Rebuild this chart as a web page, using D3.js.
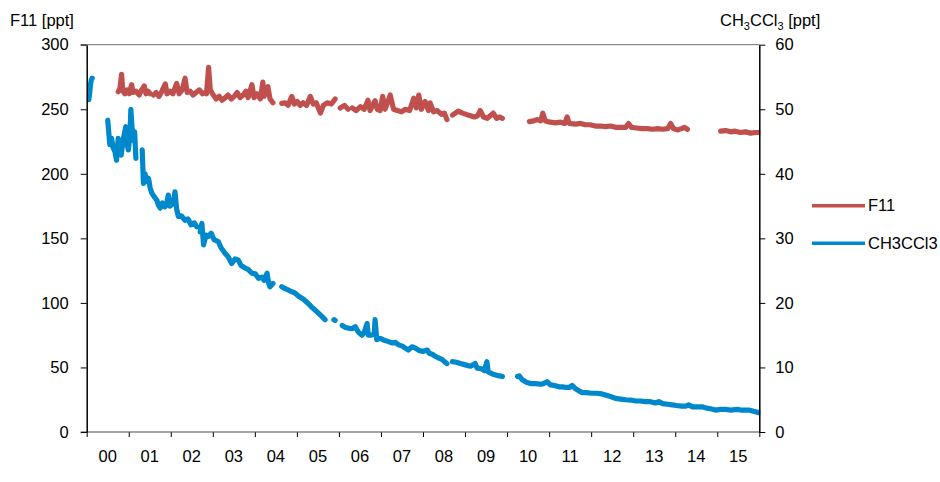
<!DOCTYPE html>
<html>
<head>
<meta charset="utf-8">
<script src="https://cdn.jsdelivr.net/npm/d3@7"></script>
<style>
  html, body { margin: 0; padding: 0; background: #fff; }
  text { font-family: "Liberation Sans", Arial, sans-serif; }
</style>
</head>
<body>
<svg id="chart" width="940" height="482"></svg>
<script>
// ---------- DATA (time in years since 2000; null = gap) ----------
const yearLabels = ["00","01","02","03","04","05","06","07","08","09","10","11","12","13","14","15"];
const leftTicks = [0, 50, 100, 150, 200, 250, 300];
const rightTicks = [0, 10, 20, 30, 40, 50, 60];
const seriesNames = ["F11", "CH3CCl3"];

const f11Time = [
  0.75,0.79,0.83,0.86,0.91,0.96,1.01,1.07,1.10,1.17,1.25,1.29,1.37,1.41,1.46,1.51,null,
  1.59,1.65,1.72,1.79,1.87,1.91,1.98,2.05,2.14,2.20,2.27,2.34,2.39,2.46,2.53,2.60,2.68,2.75,2.82,2.85,2.90,2.94,
  3.01,3.08,3.15,3.22,3.30,3.36,3.44,3.51,3.58,3.65,3.72,3.79,3.84,3.93,3.98,4.05,4.13,4.19,4.22,4.31,4.36,4.43,null,
  4.64,4.72,4.79,4.88,4.94,5.01,5.08,5.15,5.23,5.32,5.39,5.46,5.56,5.63,5.72,5.82,5.91,null,
  6.03,6.13,6.22,null,
  6.32,6.41,6.51,6.60,6.69,6.74,6.86,6.91,6.98,7.04,7.10,7.22,7.30,7.39,7.49,7.58,7.68,7.78,7.84,7.90,7.96,
  8.05,8.13,8.17,8.25,8.34,8.44,8.51,8.57,null,
  8.70,8.77,8.84,8.94,9.03,9.13,9.22,9.30,9.36,9.44,9.53,9.60,9.67,9.75,9.82,9.89,null,
  10.53,10.63,10.72,10.80,10.85,10.91,11.03,11.15,11.27,11.37,11.43,11.48,11.63,11.75,11.86,11.98,
  12.10,12.22,12.34,12.46,12.58,12.70,12.82,12.89,12.96,13.08,13.21,13.34,13.46,13.58,13.70,13.82,13.89,13.96,
  14.05,14.15,14.22,14.29,null,
  15.08,15.20,15.32,15.43,15.55,15.67,15.79,15.91,16.00
];
const f11Values = [
  263.6,266,277,264,262,265,262,269,263,264,261,264,268,262,264,262,null,
  261,263,260,264,269.6,262,264,262,270,262,265,274,263,264,261,263,265,262,263,262,282.5,265,
  261,258,260,257,259,261,258,260,263,259,261,264,259,269,259,262,258,271,260,267.5,258,255,null,
  254.6,255,253,260,254,256,253,255,253,260,254,255,247,253,255,254,258,null,
  251,253,250,null,
  251,249,252,250,257,249,256.6,250,249,260,250,261,250,249,248,250,249,258.5,251,261,250,
  256,249,255,248,249,246,247,242,null,
  245.5,247,248.6,247,246,245,244,245,249,244,243,245,247,243,244,243,null,
  240.4,241,242,241,246.9,241,240,239.5,240,239,244,239,238.5,239,238,238,
  237,237,236.5,237,236,236,236,239,236,235.5,235,235,234.5,235,234.5,235,239,235,
  234,235,236,234.5,null,
  233,233.5,232.5,233,232,232.5,231.5,232,232
];

const ch3Time = [
  0.05,0.07,0.09,0.11,0.13,null,
  0.50,0.53,0.55,0.59,0.63,0.67,0.71,0.75,0.78,0.82,0.86,0.93,0.96,0.99,1.03,1.05,1.08,1.11,1.14,1.17,null,
  1.32,1.35,1.39,1.42,1.47,1.51,1.55,1.60,1.67,1.70,1.75,1.80,1.86,1.90,1.94,1.98,2.02,2.07,2.10,2.14,2.18,
  2.25,2.34,2.41,2.48,2.56,2.62,null,
  2.70,2.74,2.78,2.84,2.90,2.96,3.03,3.13,3.20,3.29,3.36,3.45,3.53,3.61,3.67,3.77,3.84,3.93,4.01,4.09,4.17,
  4.22,4.29,4.33,4.36,4.43,null,
  4.64,4.72,4.79,4.86,4.96,5.05,5.15,5.27,5.36,5.43,5.50,5.58,5.67,null,
  5.88,5.91,null,
  6.08,6.15,6.22,6.31,6.39,6.46,6.55,6.60,6.67,6.70,6.77,6.84,6.86,6.90,6.98,7.08,7.18,7.27,7.34,7.42,7.51,
  7.58,7.65,7.74,7.82,7.91,8.01,8.10,8.15,8.23,8.30,8.36,8.44,8.51,8.57,null,
  8.70,8.79,8.89,9.01,9.13,9.24,9.29,9.39,9.46,9.52,9.55,9.65,9.75,9.82,9.89,null,
  10.25,10.29,10.36,10.46,10.56,10.68,10.80,10.87,10.95,11.03,11.13,11.23,11.32,11.41,11.48,11.55,11.63,
  11.70,11.79,11.89,12.01,12.13,12.26,12.36,12.46,12.58,12.70,12.82,12.94,13.06,13.17,13.29,13.41,13.53,
  13.61,13.70,13.82,13.93,14.03,14.15,14.25,14.32,14.41,14.53,14.64,14.74,14.84,14.96,15.08,15.20,15.32,
  15.48,15.56,15.65,15.75,15.86,15.99
];
const ch3Values = [
  51.5,52.5,53.8,54.6,54.8,null,
  48.3,46,44.5,45.5,44,43.5,42.1,45.5,43.5,42.9,45,47.3,44.5,43.7,46,50.0,47,45.2,46.5,42.4,null,
  43.7,38.5,40,38.8,39.3,37.8,37,36.5,35.9,35.2,34.7,35.5,34.9,35.2,36.7,35,35.2,36,37.2,34.5,33.4,
  33.5,32.8,33,32.1,32.4,31.8,null,
  31,32.3,29,30.5,30.3,30.8,29.8,29.5,28.5,27.7,27.2,26.1,26.8,26.6,25.8,25.4,25.2,24.6,24.5,23.8,24,
  23.5,24.6,23,22.5,23,null,
  22.5,22.2,22,21.8,21.5,21,20.6,19.9,19.3,18.9,18.5,18,17.4,null,
  17.4,17.3,null,
  16.5,16.2,16.1,16,16.3,15.5,15,15.4,16.8,15,15,15.2,17.4,14.3,14.5,14.2,14,13.8,13.9,13.5,13.3,
  13.0,12.7,13.2,13,12.6,12.5,12.7,12.2,12,11.7,11.5,11.3,10.9,10.6,null,
  10.9,10.8,10.6,10.4,10.2,10.6,9.9,9.8,9.5,10.9,9.3,9.0,8.8,8.7,8.6,null,
  8.6,8.7,8.1,7.7,7.5,7.5,7.4,7.5,7.8,7.3,7.2,7.0,7.0,6.9,6.9,7.2,6.7,
  6.4,6.1,6.1,6.0,6.0,5.9,5.7,5.5,5.2,5.1,5.0,4.95,4.8,4.8,4.7,4.7,4.5,
  4.7,4.4,4.3,4.2,4.1,4.0,4.0,4.2,3.9,3.9,3.9,3.7,3.6,3.4,3.5,3.5,3.4,
  3.5,3.4,3.4,3.4,3.2,3.0
];

// ---------- LAYOUT ----------
const colors = { F11: "#C0504D", CH3CCl3: "#0088CC" };
const plot = { left: 86.7, right: 759.3, top: 44.7, bottom: 432 };
const svg = d3.select("#chart");
const fontSize = 16.5;

const x = d3.scaleLinear().domain([0, 16]).range([plot.left, plot.right]);
const yL = d3.scaleLinear().domain([0, 300]).range([plot.bottom, plot.top]);
const yR = d3.scaleLinear().domain([0, 60]).range([plot.bottom, plot.top]);

// top border line
svg.append("line")
  .attr("x1", plot.left - 6).attr("x2", plot.right)
  .attr("y1", plot.top).attr("y2", plot.top)
  .attr("stroke", "#6e6e6e").attr("stroke-width", 1);

// clip
svg.append("clipPath").attr("id", "clip").append("rect")
  .attr("x", plot.left).attr("y", plot.top - 2)
  .attr("width", plot.right - plot.left + 1).attr("height", plot.bottom - plot.top + 2);

// data lines
function makeData(ts, vs) { return ts.map((t, i) => ({ t: t, v: vs[i] })); }
const f11Data = makeData(f11Time, f11Values);
const ch3Data = makeData(ch3Time, ch3Values);

const lineL = d3.line().defined(d => d.v !== null && d.t !== null).x(d => x(d.t)).y(d => yL(d.v));
const lineR = d3.line().defined(d => d.v !== null && d.t !== null).x(d => x(d.t)).y(d => yR(d.v));

const g = svg.append("g").attr("clip-path", "url(#clip)");
g.append("path").datum(f11Data).attr("d", lineL)
  .attr("fill", "none").attr("stroke", colors.F11).attr("stroke-width", 5.2)
  .attr("stroke-linejoin", "round").attr("stroke-linecap", "round");
g.append("path").datum(ch3Data).attr("d", lineR)
  .attr("fill", "none").attr("stroke", colors.CH3CCl3).attr("stroke-width", 5.2)
  .attr("stroke-linejoin", "round").attr("stroke-linecap", "round");

// x axis
const xAxis = svg.append("g").attr("transform", `translate(0,${plot.bottom})`)
  .call(d3.axisBottom(x).tickValues(d3.range(0, 17)).tickFormat("").tickSize(5).tickSizeOuter(0));
xAxis.select(".domain").remove();
xAxis.selectAll(".tick line").attr("stroke", "#000");
svg.append("line")
  .attr("x1", plot.left - 6).attr("x2", plot.right)
  .attr("y1", plot.bottom).attr("y2", plot.bottom)
  .attr("stroke", "#4d4d4d").attr("stroke-width", 1.2);
svg.append("g").selectAll("text").data(yearLabels).join("text")
  .attr("x", (d, i) => x(i + 0.5))
  .attr("y", 462)
  .attr("text-anchor", "middle")
  .attr("font-size", fontSize).attr("fill", "#000")
  .text(d => d);

// left axis
const leftAxis = svg.append("g").attr("transform", `translate(${plot.left},0)`)
  .call(d3.axisLeft(yL).tickValues(leftTicks).tickSize(6).tickSizeOuter(0).tickPadding(12));
leftAxis.select(".domain").attr("stroke", "#000").attr("stroke-width", 1.5);
leftAxis.selectAll(".tick line").attr("stroke", "#000");
leftAxis.selectAll(".tick text").attr("font-size", fontSize).attr("fill", "#000")
  .attr("font-family", "Liberation Sans, Arial, sans-serif");

// right axis
const rightAxis = svg.append("g").attr("transform", `translate(${plot.right},0)`)
  .call(d3.axisRight(yR).tickValues(rightTicks).tickSize(6).tickSizeOuter(0).tickPadding(10));
rightAxis.select(".domain").attr("stroke", "#000").attr("stroke-width", 1.5);
rightAxis.selectAll(".tick line").attr("stroke", "#000");
rightAxis.selectAll(".tick text").attr("font-size", fontSize).attr("fill", "#000")
  .attr("font-family", "Liberation Sans, Arial, sans-serif");

// axis titles
svg.append("text").attr("x", 10).attr("y", 26).attr("font-size", fontSize).attr("fill", "#000")
  .text("F11 [ppt]");
const rt = svg.append("text").attr("x", 720).attr("y", 26).attr("font-size", fontSize).attr("fill", "#000");
rt.append("tspan").text("CH");
rt.append("tspan").attr("font-size", 11).attr("dy", 4).text("3");
rt.append("tspan").attr("dy", -4).text("CCl");
rt.append("tspan").attr("font-size", 11).attr("dy", 4).text("3");
rt.append("tspan").attr("dy", -4).text(" [ppt]");

// legend
const legY = [205.7, 243.3];
seriesNames.forEach((name, i) => {
  svg.append("line").attr("x1", 812).attr("x2", 865).attr("y1", legY[i]).attr("y2", legY[i])
    .attr("stroke", colors[name]).attr("stroke-width", 3.5);
  svg.append("text").attr("x", 868).attr("y", legY[i]).attr("dy", "0.35em")
    .attr("font-size", fontSize).attr("fill", "#000").text(name);
});
</script>
</body>
</html>
